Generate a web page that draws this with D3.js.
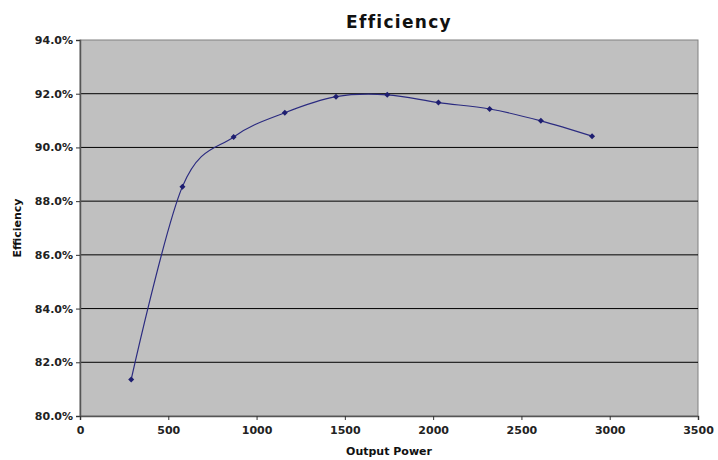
<!DOCTYPE html>
<html>
<head>
<meta charset="utf-8"/>
<style>
  body { margin: 0; background: #fff; }
  text { font-family: "DejaVu Sans", Verdana, sans-serif; }
</style>
</head>
<body>
<div id="chart"></div>
<script src="https://cdn.jsdelivr.net/npm/d3@7/dist/d3.min.js"></script>
<script>

// data
var power = [290, 580, 870, 1160, 1450, 1740, 2030, 2320, 2610, 2900];
var efficiency = [81.36, 88.54, 90.39, 91.29, 91.89, 91.96, 91.67, 91.43, 90.99, 90.42];
var xTicks = [0, 500, 1000, 1500, 2000, 2500, 3000, 3500];
var yTicks = [80, 82, 84, 86, 88, 90, 92, 94];

var W = 718, H = 460;
var plot = {left: 80, top: 40, right: 698, bottom: 416};

var svg = d3.select("#chart").append("svg")
    .attr("width", W).attr("height", H);

var x = d3.scaleLinear().domain([0, 3500]).range([plot.left, plot.right]);
var y = d3.scaleLinear().domain([80, 94]).range([plot.bottom, plot.top]);

// plot background
svg.append("rect")
    .attr("x", plot.left).attr("y", plot.top)
    .attr("width", plot.right - plot.left)
    .attr("height", plot.bottom - plot.top)
    .attr("fill", "#c0c0c0")
    .attr("stroke", "#808080").attr("stroke-width", 1);

// horizontal gridlines
svg.selectAll(".grid")
    .data(yTicks.slice(1, -1))
  .enter().append("line")
    .attr("class", "grid")
    .attr("x1", plot.left).attr("x2", plot.right)
    .attr("y1", function(d) { return y(d); })
    .attr("y2", function(d) { return y(d); })
    .attr("stroke", "#000").attr("stroke-width", 1);

// axes
var yAxis = d3.axisLeft(y).tickValues(yTicks)
    .tickFormat(function(d) { return d.toFixed(1) + "%"; })
    .tickSize(4).tickPadding(3);
var xAxis = d3.axisBottom(x).tickValues(xTicks)
    .tickFormat(d3.format("d"))
    .tickSize(4).tickPadding(6);

var gy = svg.append("g")
    .attr("transform", "translate(" + plot.left + ",0)")
    .call(yAxis);
var gx = svg.append("g")
    .attr("transform", "translate(0," + plot.bottom + ")")
    .call(xAxis);

[gx, gy].forEach(function(g) {
  g.select(".domain").attr("stroke", "#555").attr("stroke-width", 1.5);
  g.selectAll(".tick line").attr("stroke", "#333");
  g.selectAll(".tick text")
      .attr("font-size", 11).attr("font-weight", "bold")
      .attr("fill", "#222")
      .style("font-family", "'DejaVu Sans', Verdana, sans-serif");
});

// smoothed line
var line = d3.line()
    .x(function(d, i) { return x(power[i]); })
    .y(function(d) { return y(d); })
    .curve(d3.curveCardinal.tension(0));

svg.append("path")
    .datum(efficiency)
    .attr("d", line)
    .attr("fill", "none")
    .attr("stroke", "#2b2b80").attr("stroke-width", 1.2);

// diamond markers (square turned 45 degrees)
var diamond = d3.symbol().type(d3.symbolSquare).size(18);
svg.selectAll(".pt")
    .data(efficiency)
  .enter().append("path")
    .attr("class", "pt")
    .attr("d", diamond)
    .attr("transform", function(d, i) {
      return "translate(" + x(power[i]) + "," + y(d) + ") rotate(45)";
    })
    .attr("fill", "#1e1e70");

// titles
svg.append("text")
    .attr("x", 399).attr("y", 28)
    .attr("text-anchor", "middle")
    .attr("font-size", 17).attr("font-weight", "bold")
    .attr("letter-spacing", 1.3)
    .attr("fill", "#111")
    .text("Efficiency");

svg.append("text")
    .attr("x", (plot.left + plot.right) / 2).attr("y", 455)
    .attr("text-anchor", "middle")
    .attr("font-size", 11).attr("font-weight", "bold")
    .attr("fill", "#111")
    .text("Output Power");

svg.append("text")
    .attr("transform", "translate(21," + ((plot.top + plot.bottom) / 2) + ") rotate(-90)")
    .attr("text-anchor", "middle")
    .attr("font-size", 11).attr("font-weight", "bold")
    .attr("fill", "#111")
    .text("Efficiency");

</script>
</body>
</html>
